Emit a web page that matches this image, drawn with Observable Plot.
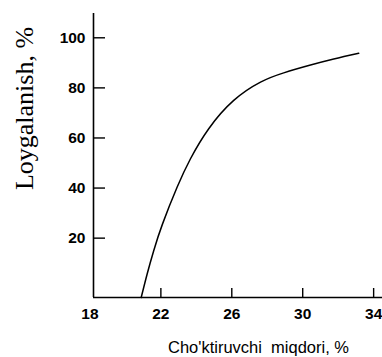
<!DOCTYPE html>
<html>
<head>
<meta charset="utf-8">
<script src="https://cdn.jsdelivr.net/npm/d3@7"></script>
<script src="https://cdn.jsdelivr.net/npm/@observablehq/plot@0.6"></script>
<style>
  html, body { margin: 0; padding: 0; background: #fff; }
  #chart svg { display: block; }
</style>
</head>
<body>
<div id="chart"></div>
<script>
// Data
const precipitant = [20.89, 21.23, 21.60, 22.10, 22.92, 23.67, 24.70, 26.11, 27.62, 28.93, 30.44, 31.75, 33.16];
const flocculation = [-3.7, 5.8, 15.1, 25.8, 40.4, 51.7, 63.7, 75.0, 82.3, 86.0, 89.1, 91.5, 93.8];
const xTicks = [22, 26, 30, 34];
const xTickLabels = [18, 22, 26, 30, 34];
const yTicks = [20, 40, 60, 80, 100];
const xDomain = [18.2, 34.5];
const yDomain = [-3.7, 109.7];
const yLabel = "Loygalanish, %";
const xLabel = "Cho'ktiruvchi  miqdori, %";

const data = precipitant.map((x, i) => ({x, y: flocculation[i]}));

const sans = "'Liberation Sans', Arial, sans-serif";
const serif = "'Liberation Serif', 'Times New Roman', serif";

const chart = Plot.plot({
  width: 382,
  height: 357,
  marginLeft: 93,
  marginRight: 0,
  marginTop: 13,
  marginBottom: 60,
  style: {background: "#fff", color: "#000"},
  x: {domain: xDomain},
  y: {domain: yDomain},
  marks: [
    Plot.ruleX([xDomain[0]], {stroke: "#000", strokeWidth: 1.6}),
    Plot.ruleY([yDomain[0]], {stroke: "#000", strokeWidth: 1.6}),
    // inward ticks
    Plot.axisY(yTicks, {tickSize: -12, text: null, label: null, stroke: "#000", strokeWidth: 1.4}),
    Plot.axisY(yTicks, {tickSize: 0, tickPadding: 8, label: null, fontSize: 15.5, fontWeight: "bold", fontFamily: sans, fill: "#000"}),
    Plot.axisX(xTicks, {tickSize: -9, text: null, label: null, stroke: "#000", strokeWidth: 1.4}),
    Plot.axisX(xTickLabels, {tickSize: 0, tickPadding: 10, label: null, fontSize: 15.5, fontWeight: "bold", fontFamily: sans, fill: "#000"}),
    Plot.line(data, {x: "x", y: "y", curve: "natural", stroke: "#000", strokeWidth: 1.5}),
    Plot.text([yLabel], {frameAnchor: "left", textAnchor: "middle", rotate: -90, dx: -69, dy: -47, fontSize: 26, fontFamily: serif, fill: "#000", lineAnchor: "middle"}),
    Plot.text([xLabel], {frameAnchor: "bottom", dx: 20.5, dy: 50, fontSize: 16.5, fontFamily: sans, fill: "#000", lineAnchor: "middle"})
  ]
});
document.getElementById("chart").appendChild(chart);
</script>
</body>
</html>
